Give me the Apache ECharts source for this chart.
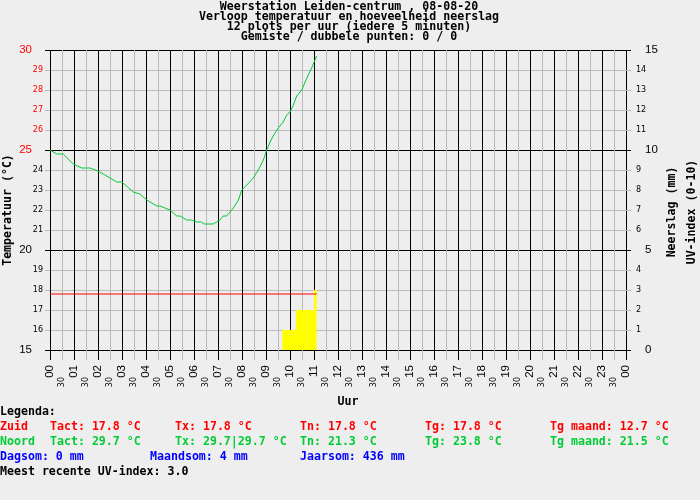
<!DOCTYPE html>
<html>
<head>
<meta charset="utf-8">
<script src="https://cdn.jsdelivr.net/npm/echarts@6/dist/echarts.min.js"></script>
<style>
  html, body { margin: 0; padding: 0; background: #eeeeee; }
  #main-chart { width: 700px; height: 500px; }
</style>
</head>
<body>
<div id="main-chart"></div>
<script>
// readings, hours since midnight
const noordHours = [0, 0.28, 0.55, 0.97, 1.32, 1.67, 2.08, 2.5, 2.78, 2.99, 3.47, 3.75, 4.03, 4.45, 4.58, 5.0,
  5.28, 5.42, 5.7, 5.9, 6.11, 6.32, 6.42, 6.8, 7.08, 7.22, 7.36, 7.64, 7.71, 7.85, 7.99, 8.2, 8.47, 8.68,
  8.89, 9.03, 9.17, 9.3, 9.51, 9.72, 9.86, 10.0, 10.14, 10.28, 10.49, 10.63, 10.76, 10.9, 11.11]
const noordTemps = [25.0, 24.8, 24.8, 24.3, 24.1, 24.1, 23.9, 23.6, 23.4, 23.4, 22.9, 22.8, 22.5, 22.2, 22.2, 22.0,
  21.7, 21.7, 21.5, 21.5, 21.4, 21.4, 21.3, 21.3, 21.5, 21.7, 21.7, 22.1, 22.1, 22.5, 23.0, 23.25, 23.6, 24.0,
  24.5, 25.0, 25.4, 25.7, 26.1, 26.4, 26.75, 26.9, 27.25, 27.7, 28.0, 28.4, 28.75, 29.1, 29.7]
const zuidHours = [0, 11.11]
const zuidTemps = [17.8, 17.8]
const uvHours = [9.68, 10.25, 11.0, 11.11]
const uvValues = [1, 2, 3, 3]

const titleLines = [
  'Weerstation Leiden-centrum , 08-08-20',
  'Verloop temperatuur en hoeveelheid neerslag',
  '12 plots per uur (iedere 5 minuten)',
  'Gemiste / dubbele punten: 0 / 0'
]
// [x, row, text, color]
const legendItems = [
  [0, 0, 'Legenda:', '#000000'],
  [0, 1, 'Zuid', '#ff0000'],
  [50, 1, 'Tact: 17.8 °C', '#ff0000'],
  [175, 1, 'Tx: 17.8 °C', '#ff0000'],
  [300, 1, 'Tn: 17.8 °C', '#ff0000'],
  [425, 1, 'Tg: 17.8 °C', '#ff0000'],
  [550, 1, 'Tg maand: 12.7 °C', '#ff0000'],
  [0, 2, 'Noord', '#00cc33'],
  [50, 2, 'Tact: 29.7 °C', '#00cc33'],
  [175, 2, 'Tx: 29.7|29.7 °C', '#00cc33'],
  [300, 2, 'Tn: 21.3 °C', '#00cc33'],
  [425, 2, 'Tg: 23.8 °C', '#00cc33'],
  [550, 2, 'Tg maand: 21.5 °C', '#00cc33'],
  [0, 3, 'Dagsom: 0 mm', '#0000ff'],
  [150, 3, 'Maandsom: 4 mm', '#0000ff'],
  [300, 3, 'Jaarsom: 436 mm', '#0000ff'],
  [0, 4, 'Meest recente UV-index: 3.0', '#000000']
]

const zip = (xs, ys) => xs.map((x, i) => [x, ys[i]])
const pad = v => v.toString().padStart(2, '0')
const MONO = 'DejaVu Sans Mono'
const SANS = 'Liberation Sans'
const GRAY = '#bbbbbb'

const chart = echarts.init(document.getElementById('main-chart'))

const frameAxis = (min, max, pos) => ({
  type: 'value', min: min, max: max, interval: 5, position: pos,
  axisLine: { show: false },
  axisTick: { show: true, length: 5, lineStyle: { color: '#000' } },
  minorTick: { show: true, splitNumber: 5, length: 5, lineStyle: { color: GRAY } },
  splitLine: { show: pos === 'left', lineStyle: { color: '#000' } },
  minorSplitLine: { show: pos === 'left', lineStyle: { color: GRAY } },
  axisLabel: { show: false }
})
const labelAxis = (min, max, pos, fmt, rich) => ({
  type: 'value', min: min, max: max, interval: 1, position: pos,
  axisLine: { show: false }, axisTick: { show: false }, splitLine: { show: false },
  axisLabel: { margin: pos === 'left' ? 7 : 10, formatter: fmt, rich: rich }
})

const small = { fontFamily: 'DejaVu Sans', fontSize: 8, color: '#000' }
const big = { fontFamily: SANS, fontSize: 11.5, color: '#000' }

chart.setOption({
  animation: false,
  backgroundColor: '#eeeeee',
  grid: { left: 50, top: 50, width: 576, height: 300, containLabel: false },
  xAxis: [
    {
      type: 'value', min: 0, max: 24, interval: 1, position: 'bottom',
      axisLine: { show: true, onZero: false, lineStyle: { color: '#000' } },
      axisTick: { show: true, length: 10, lineStyle: { color: '#000' } },
      minorTick: { show: true, splitNumber: 2, length: 10, lineStyle: { color: GRAY } },
      splitLine: { show: true, lineStyle: { color: '#000' } },
      minorSplitLine: { show: true, lineStyle: { color: GRAY } },
      axisLabel: {
        rotate: 90, margin: 15, fontFamily: SANS, fontSize: 11.5, color: '#000',
        formatter: v => pad(v % 24)
      }
    },
    {
      type: 'value', min: 0, max: 24, interval: 0.5, position: 'bottom',
      axisLine: { show: false }, axisTick: { show: false }, splitLine: { show: false },
      axisLabel: {
        rotate: 90, margin: 27, fontFamily: 'DejaVu Sans', fontSize: 8, color: '#000',
        formatter: v => (v % 1 === 0.5 ? '30' : '')
      }
    }
  ],
  yAxis: [
    frameAxis(15, 30, 'left'),
    labelAxis(15, 30, 'left',
      v => v % 5 === 0 ? `{${v >= 25 ? 'bR' : 'b'}|${v}}` : `{${v > 25 ? 'sR' : 's'}|${v}}`,
      {
        s: small,
        sR: Object.assign({}, small, { color: '#ff0000' }),
        b: Object.assign({}, big, { padding: [0, 11, 0, 0] }),
        bR: Object.assign({}, big, { padding: [0, 11, 0, 0], color: '#ff0000' })
      }),
    frameAxis(0, 15, 'right'),
    labelAxis(0, 15, 'right',
      v => v % 5 === 0 ? `{b|${v}}` : `{s|${v}}`,
      {
        s: small,
        b: Object.assign({}, big, { padding: [0, 0, 0, 9] })
      })
  ],
  series: [
    {
      name: 'UV-index', type: 'line', xAxisIndex: 0, yAxisIndex: 2,
      step: 'end', showSymbol: false, symbol: 'none',
      lineStyle: { color: '#ffff00', width: 0 },
      areaStyle: { color: '#ffff00', opacity: 1 },
      data: zip(uvHours, uvValues)
    },
    {
      name: 'Zuid', type: 'line', xAxisIndex: 0, yAxisIndex: 0, symbol: 'none',
      lineStyle: { color: '#ff0000', width: 1 },
      data: zip(zuidHours, zuidTemps)
    },
    {
      name: 'Noord', type: 'line', xAxisIndex: 0, yAxisIndex: 0, symbol: 'none',
      lineStyle: { color: '#00cc33', width: 1 },
      data: zip(noordHours, noordTemps)
    }
  ],
  graphic: [
    ...titleLines.map((t, i) => ({
      type: 'text', x: 349, y: 7 + i * 10,
      style: { text: t, font: `bold 11.6px "${MONO}"`, fill: '#000', align: 'center', verticalAlign: 'middle' }
    })),
    {
      type: 'text', x: 348, y: 402,
      style: { text: 'Uur', font: `bold 11.6px "${MONO}"`, fill: '#000', align: 'center', verticalAlign: 'middle' }
    },
    {
      type: 'text', x: 8, y: 210, rotation: Math.PI / 2,
      style: { text: 'Temperatuur (°C)', font: `bold 11.6px "${MONO}"`, fill: '#000', align: 'center', verticalAlign: 'middle' }
    },
    {
      type: 'text', x: 672, y: 212, rotation: Math.PI / 2,
      style: { text: 'Neerslag (mm)', font: `bold 11.6px "${MONO}"`, fill: '#000', align: 'center', verticalAlign: 'middle' }
    },
    {
      type: 'text', x: 692, y: 212, rotation: Math.PI / 2,
      style: { text: 'UV-index (0-10)', font: `bold 11.6px "${MONO}"`, fill: '#000', align: 'center', verticalAlign: 'middle' }
    },
    ...legendItems.map(([x, row, t, c]) => ({
      type: 'text', x: x, y: 412 + row * 15,
      style: { text: t, font: `bold 11.6px "${MONO}"`, fill: c, align: 'left', verticalAlign: 'middle' }
    }))
  ]
})
</script>
</body>
</html>
